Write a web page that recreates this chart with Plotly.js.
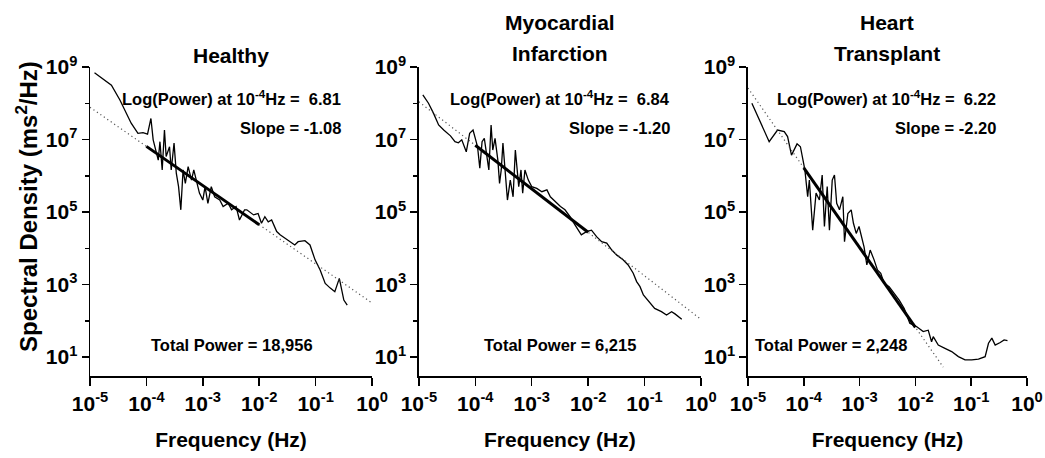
<!DOCTYPE html>
<html>
<head>
<meta charset="utf-8">
<script src="https://cdn.plot.ly/plotly-3.0.1.min.js"></script>
<style>html,body{margin:0;padding:0;background:#fff;}#chart{width:1045px;height:458px;}</style>
</head>
<body>
<div id="chart"></div>
<script>
// ---------- data (log10 frequency in Hz, log10 spectral density in ms^2/Hz) ----------
const panelTitles = [["Healthy"], ["Myocardial", "Infarction"], ["Heart", "Transplant"]];
const logPowerAt1e4 = ["6.81", "6.84", "6.22"];
const slopes = ["-1.08", "-1.20", "-2.20"];
const totalPower = ["18,956", "6,215", "2,248"];

const xTickVals = [1e-5, 1e-4, 1e-3, 1e-2, 1e-1, 1];
const xTickText = ["10<sup>-5</sup>", "10<sup>-4</sup>", "10<sup>-3</sup>", "10<sup>-2</sup>", "10<sup>-1</sup>", "10<sup>0</sup>"];
const yTickVals = [1e1, 1e3, 1e5, 1e7, 1e9];
const yTickText = ["10<sup>1</sup>", "10<sup>3</sup>", "10<sup>5</sup>", "10<sup>7</sup>", "10<sup>9</sup>"];
const yMinorVals = [1e2, 1e4, 1e6, 1e8];

const healthyLogF = [-4.92,-4.62,-4.47,-4.38,-4.27,-4.15,-4.06,-3.98,-3.92,-3.88,-3.85,-3.79,-3.76,-3.72,-3.68,-3.65,-3.59,-3.56,-3.51,-3.47,-3.43,-3.39,-3.35,-3.31,-3.26,-3.20,-3.16,-3.12,-3.06,-3.00,-2.96,-2.91,-2.85,-2.79,-2.70,-2.64,-2.55,-2.49,-2.41,-2.35,-2.26,-2.22,-2.10,-2.02,-1.96,-1.90,-1.84,-1.78,-1.69,-1.63,-1.54,-1.45,-1.37,-1.31,-1.19,-1.10,-1.01,-0.92,-0.83,-0.74,-0.66,-0.58,-0.54,-0.50,-0.44];
const healthyLogP = [8.84,8.50,8.09,7.81,7.45,7.17,7.19,7.15,7.58,6.99,6.80,6.43,6.94,6.16,7.26,6.53,6.80,6.16,6.90,6.07,5.70,5.06,6.16,5.79,6.25,5.88,6.16,5.88,5.52,5.33,5.70,5.24,5.70,5.42,5.33,5.15,5.24,5.06,5.15,4.78,5.06,5.06,4.92,4.96,4.69,4.87,4.73,4.78,4.46,4.37,4.27,4.18,4.09,4.18,4.21,4.09,3.68,3.40,3.03,2.90,2.80,3.17,2.85,2.57,2.43];

const miLogF = [-4.93,-4.83,-4.74,-4.65,-4.56,-4.44,-4.36,-4.30,-4.24,-4.16,-4.10,-4.04,-4.00,-3.96,-3.92,-3.88,-3.84,-3.79,-3.76,-3.72,-3.69,-3.65,-3.60,-3.57,-3.54,-3.51,-3.47,-3.43,-3.38,-3.33,-3.29,-3.26,-3.23,-3.19,-3.16,-3.12,-3.06,-3.00,-2.91,-2.82,-2.73,-2.67,-2.58,-2.49,-2.41,-2.32,-2.23,-2.12,-2.03,-1.94,-1.85,-1.76,-1.67,-1.58,-1.49,-1.38,-1.29,-1.20,-1.14,-1.08,-1.02,-0.93,-0.82,-0.70,-0.61,-0.52,-0.46,-0.34];
const miLogP = [8.23,8.00,7.72,7.40,7.26,7.10,6.94,6.91,6.99,6.66,7.17,7.26,7.03,6.80,6.21,6.94,7.03,6.53,6.16,7.40,6.71,7.03,6.43,5.79,6.16,6.90,6.16,5.33,5.88,5.42,6.71,6.16,5.70,6.16,5.52,6.16,5.88,5.70,5.65,5.56,5.61,5.42,5.28,5.15,5.06,4.87,4.64,4.37,4.46,4.50,4.32,4.18,4.14,3.95,3.81,3.68,3.54,3.31,3.08,2.94,2.71,2.53,2.34,2.25,2.16,2.25,2.19,2.04];

const htLogF = [-4.93,-4.62,-4.47,-4.35,-4.29,-4.22,-4.12,-4.06,-3.98,-3.93,-3.90,-3.84,-3.78,-3.72,-3.67,-3.63,-3.58,-3.54,-3.49,-3.45,-3.41,-3.36,-3.30,-3.27,-3.21,-3.15,-3.11,-3.06,-3.01,-2.96,-2.92,-2.87,-2.81,-2.74,-2.68,-2.62,-2.56,-2.47,-2.38,-2.29,-2.20,-2.10,-1.98,-1.86,-1.77,-1.71,-1.68,-1.59,-1.47,-1.35,-1.23,-1.11,-0.99,-0.87,-0.75,-0.69,-0.63,-0.57,-0.48,-0.41,-0.35];
const htLogP = [8.00,6.94,7.26,7.22,7.08,6.57,6.88,6.80,6.16,5.42,5.88,4.50,5.52,5.33,6.02,4.60,5.70,4.50,5.88,6.02,5.24,5.06,5.42,4.18,4.96,5.06,4.69,4.41,4.60,4.27,4.04,3.54,3.95,3.68,3.40,3.31,3.03,2.94,2.76,2.57,2.34,1.93,1.84,1.70,1.74,1.42,1.56,1.33,1.24,1.15,1.01,0.92,0.92,0.94,1.01,1.38,1.52,1.33,1.40,1.47,1.45];

// regression lines: dotted extension (full) and thick fitted segment (10^-4 .. 10^-2)
const fitDotLogF = [[-5, 0], [-5, 0], [-5, -1.5]];
const fitDotLogP = [[7.89, 2.49], [8.04, 2.04], [8.42, 0.72]];
const fitSolidLogF = [[-4, -2], [-4, -2], [-4, -2]];
const fitSolidLogP = [[6.81, 4.65], [6.84, 4.44], [6.22, 1.82]];

// ---------- build ----------
const pow10 = a => a.map(v => Math.pow(10, v));
const spectraF = [healthyLogF, miLogF, htLogF];
const spectraP = [healthyLogP, miLogP, htLogP];
const INK = '#000';
const FONT = 'Liberation Sans, Arial, Helvetica, sans-serif';

const traces = [];
for (let i = 0; i < 3; i++) {
  const xa = i === 0 ? 'x' : 'x' + (i + 1);
  const ya = i === 0 ? 'y' : 'y' + (i + 1);
  traces.push({x: pow10(spectraF[i]), y: pow10(spectraP[i]), xaxis: xa, yaxis: ya, mode: 'lines',
    line: {color: INK, width: 1.3}, hoverinfo: 'skip'});
  traces.push({x: pow10(fitDotLogF[i]), y: pow10(fitDotLogP[i]), xaxis: xa, yaxis: ya, mode: 'lines',
    line: {color: '#555', width: 1.2, dash: '1.2px,3px'}, hoverinfo: 'skip'});
  traces.push({x: pow10(fitSolidLogF[i]), y: pow10(fitSolidLogP[i]), xaxis: xa, yaxis: ya, mode: 'lines',
    line: {color: INK, width: 3}, hoverinfo: 'skip'});
}

const L = 90, R = 18, T = 67, B = 82, W = 1045, H = 458;
const pw = W - L - R, ph = H - T - B;
const px = v => (v - L) / pw;
const py = v => (H - B - v) / ph;

const domains = [[0, 0.301], [0.351, 0.652], [0.7022, 1]];
const layout = {
  width: W, height: H, margin: {l: L, r: R, t: T, b: B},
  paper_bgcolor: '#fff', plot_bgcolor: '#fff', showlegend: false,
  font: {family: FONT, color: INK},
  annotations: []
};
const tickFont = {size: 21, color: INK, family: FONT, weight: 'bold'};
for (let i = 0; i < 3; i++) {
  const sfx = i === 0 ? '' : String(i + 1);
  layout['xaxis' + sfx] = {
    domain: domains[i], anchor: 'y' + sfx, type: 'log', range: [-5, 0],
    showgrid: false, zeroline: false, showline: true, linecolor: INK, linewidth: 1.5,
    ticks: 'outside', ticklen: 8, tickwidth: 1.5, tickcolor: INK,
    tickmode: 'array', tickvals: xTickVals, ticktext: xTickText,
    tickfont: tickFont,
    title: {text: '<b>Frequency (Hz)</b>', font: {size: 21, color: INK, family: FONT}, standoff: 18}
  };
  layout['yaxis' + sfx] = {
    domain: [0, 1], anchor: 'x' + sfx, type: 'log', range: [0.476, 9],
    showgrid: false, zeroline: false, showline: true, linecolor: INK, linewidth: 1.5,
    ticks: 'outside', ticklen: 7, tickwidth: 1.5, tickcolor: INK,
    tickmode: 'array', tickvals: yTickVals, ticktext: yTickText,
    tickfont: tickFont,
    minor: {tickmode: 'array', tickvals: yMinorVals, ticks: 'outside', ticklen: 4, tickwidth: 1.5, tickcolor: INK, showgrid: false}
  };
}

// panel titles
const titleCenters = [231, 560, 887];
const titleRows = [[55], [22, 53], [23, 53]];
for (let i = 0; i < 3; i++) {
  panelTitles[i].forEach((t, k) => {
    layout.annotations.push({text: '<b>' + t + '</b>', xref: 'paper', yref: 'paper',
      x: px(titleCenters[i]), y: py(titleRows[i][k]), xanchor: 'center', yanchor: 'middle',
      showarrow: false, font: {size: 21, color: INK, family: FONT}});
  });
}
// in-plot annotations
const annFont = {size: 16.5, color: INK, family: FONT, weight: 'bold'};
const rightEdges = [343, 672, 998];
const totalCenters = [232, 560, 831];
for (let i = 0; i < 3; i++) {
  layout.annotations.push({text: 'Log(Power) at 10<sup>-4</sup>Hz =  ' + logPowerAt1e4[i], xref: 'paper', yref: 'paper',
    x: px(rightEdges[i]), y: py(98), xanchor: 'right', yanchor: 'middle', showarrow: false,
    font: annFont});
  layout.annotations.push({text: 'Slope = ' + slopes[i], xref: 'paper', yref: 'paper',
    x: px(rightEdges[i]), y: py(128), xanchor: 'right', yanchor: 'middle', showarrow: false,
    font: annFont});
  layout.annotations.push({text: 'Total Power = ' + totalPower[i], xref: 'paper', yref: 'paper',
    x: px(totalCenters[i]), y: py(345), xanchor: 'center', yanchor: 'middle', showarrow: false,
    font: annFont});
}
// y-axis title
layout.annotations.push({text: '<b>Spectral Density (ms<sup>2</sup>/Hz)</b>', xref: 'paper', yref: 'paper',
  x: px(27), y: py(207), xanchor: 'center', yanchor: 'middle', textangle: -90, showarrow: false,
  font: {size: 24, color: INK, family: FONT}});

Plotly.newPlot('chart', traces, layout, {staticPlot: true, displayModeBar: false});
</script>
</body>
</html>
